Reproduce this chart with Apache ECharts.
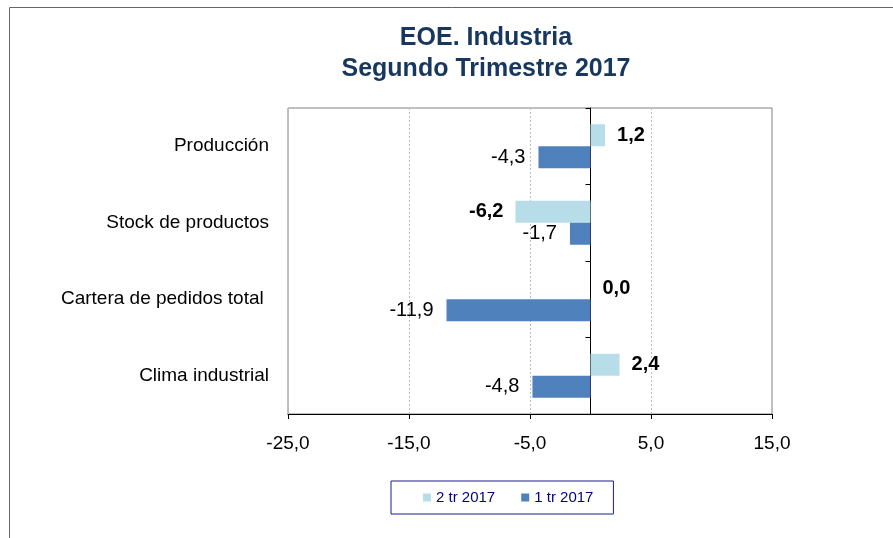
<!DOCTYPE html>
<html>
<head>
<meta charset="utf-8">
<script src="https://cdn.jsdelivr.net/npm/echarts@6/dist/echarts.min.js"></script>
<style>
  html, body { margin: 0; padding: 0; background: #fff; }
  #chart { width: 893px; height: 538px; }
</style>
</head>
<body>
<div id="chart"></div>
<script>
// datos del grafico
var categorias = ['Producción', 'Stock de productos', 'Cartera de pedidos total ', 'Clima industrial']
var nombresSeries = ['2 tr 2017', '1 tr 2017']
var valores2tr = [1.2, -6.2, 0.0, 2.4]
var valores1tr = [-4.3, -1.7, -11.9, -4.8]
var ticksX = [-25, -15, -5, 5, 15]

var colorClaro = '#B7DDE8'
var colorOscuro = '#4F81BD'

// formato con coma decimal
function fmt(v) {
  return Number(v).toFixed(1).replace('.', ',')
}

// etiqueta a la izquierda si es negativo
function datosConEtiqueta(valores, negrita) {
  return valores.map(function (v) {
    return {
      value: v,
      label: { position: v < 0 ? 'left' : 'right', fontWeight: negrita ? 'bold' : 'normal' }
    }
  })
}

var myChart = echarts.init(document.getElementById('chart'))

var option = {
  animation: false,
  textStyle: { fontFamily: 'Liberation Sans, Arial, sans-serif' },
  title: {
    text: 'EOE. Industria\nSegundo Trimestre 2017',
    left: 481,
    top: 18,
    textAlign: 'center',
    textStyle: { color: '#17375E', fontSize: 25, fontWeight: 'bold', lineHeight: 31 }
  },
  legend: {
    data: nombresSeries,
    left: 391,
    top: 481,
    orient: 'horizontal',
    icon: 'rect',
    itemWidth: 8,
    itemHeight: 8,
    itemGap: 26,
    padding: [9, 20, 9, 32],
    borderColor: '#1c1c8c',
    borderWidth: 1,
    textStyle: { color: '#000080', fontSize: 15 }
  },
  grid: {
    left: 288, right: 121, top: 108, bottom: 124,
    show: true, borderColor: '#808080', borderWidth: 1
  },
  graphic: [{
    type: 'rect',
    shape: { x: 9.5, y: 7.5, width: 1000, height: 1000 },
    style: { fill: 'none', stroke: '#666', lineWidth: 1 },
    silent: true
  }],
  xAxis: {
    type: 'value',
    min: ticksX[0],
    max: ticksX[ticksX.length - 1],
    interval: 10,
    axisLine: { show: true, onZero: false, lineStyle: { color: '#000' } },
    axisTick: { show: true, length: 5, lineStyle: { color: '#000' } },
    axisLabel: { formatter: fmt, fontSize: 19, color: '#000', margin: 20 },
    splitLine: { show: true, lineStyle: { color: '#bdbdbd', type: [2, 2] } }
  },
  yAxis: [{
    type: 'category',
    data: categorias,
    inverse: true,
    axisLine: { show: false, onZero: false },
    axisTick: { show: false },
    axisLabel: { fontSize: 19, color: '#000', margin: 19 }
  }, {
    type: 'category',
    data: categorias,
    inverse: true,
    position: 'left',
    axisLine: { show: true, onZero: true, lineStyle: { color: '#000' } },
    axisTick: { show: true, length: 5, lineStyle: { color: '#000' } },
    axisLabel: { show: false },
    splitLine: { show: false }
  }],
  series: [{
    name: nombresSeries[0],
    type: 'bar',
    yAxisIndex: 0,
    barWidth: 22,
    barGap: '0%',
    itemStyle: { color: colorClaro },
    label: { show: true, distance: 12, fontSize: 20, color: '#000', formatter: function (p) { return fmt(p.value) } },
    data: datosConEtiqueta(valores2tr, true)
  }, {
    name: nombresSeries[1],
    type: 'bar',
    yAxisIndex: 0,
    barWidth: 22,
    barGap: '0%',
    itemStyle: { color: colorOscuro },
    label: { show: true, distance: 13, fontSize: 20, color: '#000', formatter: function (p) { return fmt(p.value) } },
    data: datosConEtiqueta(valores1tr, false)
  }]
}

myChart.setOption(option)
</script>
</body>
</html>
